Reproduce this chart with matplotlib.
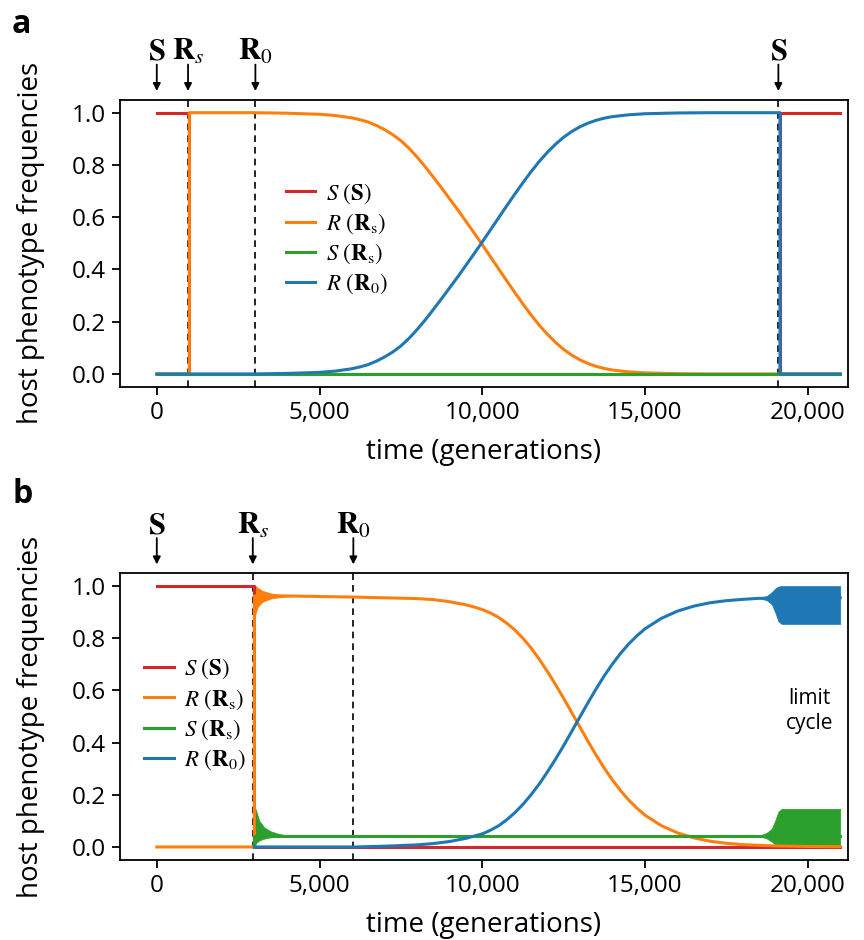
import numpy as np
import matplotlib
matplotlib.use("Agg")
from matplotlib import pyplot as plt
from matplotlib.ticker import FuncFormatter

plt.rcParams['font.family'] = ['Open Sans', 'DejaVu Sans']
plt.rcParams['mathtext.fontset'] = 'stix'

RED = '#d62728'
ORANGE = '#ff7f0e'
GREEN = '#2ca02c'
BLUE = '#1f77b4'
LW = 2.2

labels = [r'$S\ (\mathbf{S})$', r'$R\ (\mathbf{R}_\mathrm{s})$',
          r'$S\ (\mathbf{R}_\mathrm{s})$', r'$R\ (\mathbf{R}_0)$']

# ---------------- panel a ----------------
a_events = [0, 960, 3030, 19100]
a_event_labels = [r'$\mathbf{S}$', r'$\mathbf{R}_s$', r'$\mathbf{R}_0$', r'$\mathbf{S}$']
a_dashed = [960, 3030, 19100]

a_red_t = [0, 1000, 1000, 19150, 19150, 21000]
a_red = [1.0, 1.0, 0.0, 0.0, 1.0, 1.0]

a_green_t = [0, 21000]
a_green = [0.0, 0.0]

a_blue_t = [0, 3000, 3500, 4000, 4500, 5000, 5500, 6000, 6250, 6500, 6750,
            7000, 7250, 7500, 7750, 8000, 8250, 8500, 8750, 9000, 9250, 9500,
            9750, 10000, 10250, 10500, 10750, 11000, 11250, 11500, 11750, 12000,
            12250, 12500, 12750, 13000, 13250, 13500, 13750, 14000, 14500, 15000,
            16000, 17000, 19150, 19150, 21000]
a_blue = [0.0, 0.0, 0.001, 0.002, 0.004, 0.006, 0.011, 0.02, 0.027, 0.036, 0.049,
          0.065, 0.084, 0.107, 0.136, 0.17, 0.207, 0.247, 0.288, 0.33, 0.372, 0.416,
          0.46, 0.505, 0.551, 0.597, 0.643, 0.688, 0.732, 0.774, 0.813, 0.848,
          0.879, 0.906, 0.928, 0.946, 0.96, 0.971, 0.979, 0.985, 0.992, 0.996,
          0.999, 1.0, 1.0, 0.0, 0.0]

a_orange_t = [0, 1000, 1000, 3000, 3500, 4000, 4500, 5000, 5500, 6000, 6250, 6500,
              6750, 7000, 7250, 7500, 7750, 8000, 8250, 8500, 8750, 9000, 9250,
              9500, 9750, 10000, 10250, 10500, 10750, 11000, 11250, 11500, 11750,
              12000, 12250, 12500, 12750, 13000, 13250, 13500, 13750, 14000, 14500,
              15000, 16000, 17000, 19150, 21000]
a_orange = [0.0, 0.0, 1.0, 1.0, 0.999, 0.998, 0.996, 0.994, 0.989, 0.98, 0.973, 0.964,
            0.951, 0.935, 0.916, 0.893, 0.864, 0.83, 0.793, 0.753, 0.712, 0.67, 0.628,
            0.584, 0.54, 0.495, 0.449, 0.403, 0.357, 0.312, 0.268, 0.226, 0.187,
            0.152, 0.121, 0.094, 0.072, 0.054, 0.04, 0.029, 0.021, 0.015, 0.008,
            0.004, 0.001, 0.0, 0.0, 0.0]

# ---------------- panel b ----------------
b_events = [0, 2950, 6040]
b_event_labels = [r'$\mathbf{S}$', r'$\mathbf{R}_s$', r'$\mathbf{R}_0$']
b_dashed = [2950, 6040]

b_red_t = [0, 3000, 3000, 21000]
b_red = [1.0, 1.0, 0.0, 0.0]

b_orange_t = [0, 3000, 3000, 3500, 4000, 4500, 5000, 6000, 7000, 8000, 8500,
              9000, 9500, 9750, 10000, 10250, 10500, 10750, 11000, 11250, 11500,
              11750, 12000, 12250, 12500, 12750, 13000, 13250, 13500, 13750, 14000,
              14250, 14500, 14750, 15000, 15500, 16000, 16500, 17000, 17500, 18000,
              19000, 20000, 21000]
b_orange = [0.0, 0.0, 0.962, 0.963, 0.962, 0.961, 0.96, 0.958, 0.955, 0.952, 0.948,
            0.94, 0.928, 0.92, 0.91, 0.897, 0.88, 0.858, 0.832, 0.8, 0.763,
            0.72, 0.673, 0.623, 0.57, 0.515, 0.46, 0.405, 0.352, 0.302, 0.257,
            0.216, 0.18, 0.149, 0.122, 0.082, 0.054, 0.035, 0.022, 0.014, 0.009,
            0.004, 0.002, 0.001]

b_green_t = [3000, 3000, 21000]
b_green = [0.0, 0.042, 0.042]

b_blue_t = [3000, 6100, 7000, 8000, 8500, 9000, 9500, 10000, 10250, 10500, 10750,
            11000, 11250, 11500, 11750, 12000, 12250, 12500, 12750, 13000, 13250,
            13500, 13750, 14000, 14250, 14500, 14750, 15000, 15500, 16000, 16500,
            17000, 17500, 18000, 18500, 21000]
b_blue = [0.0, 0.0, 0.003, 0.008, 0.013, 0.021, 0.033, 0.05, 0.064, 0.081, 0.104,
          0.131, 0.163, 0.2, 0.241, 0.287, 0.336, 0.388, 0.443, 0.498, 0.553,
          0.606, 0.656, 0.701, 0.742, 0.778, 0.809, 0.836, 0.876, 0.904, 0.923,
          0.936, 0.944, 0.949, 0.953, 0.955]

# damped oscillation envelopes after R_s arrives
b_orange_osc_t = [3000, 3100, 3250, 3500, 3750, 4000, 4300]
b_orange_osc_hi = [1.005, 0.993, 0.982, 0.972, 0.966, 0.964, 0.962]
b_orange_osc_lo = [0.88, 0.92, 0.94, 0.952, 0.957, 0.96, 0.962]

b_green_osc_t = [3000, 3050, 3150, 3300, 3500, 3750, 4000, 4300]
b_green_osc_hi = [0.155, 0.14, 0.1, 0.075, 0.06, 0.05, 0.045, 0.042]
b_green_osc_lo = [0.0, 0.015, 0.025, 0.032, 0.037, 0.04, 0.041, 0.042]

# limit cycle envelopes
lc_t = [18500, 18750, 18900, 19000, 19100, 19200, 21000]
lc_blue_hi = [0.955, 0.962, 0.977, 0.99, 0.998, 1.0, 1.0]
lc_blue_lo = [0.955, 0.945, 0.93, 0.9, 0.865, 0.855, 0.855]
lc_green_hi = [0.042, 0.055, 0.07, 0.1, 0.135, 0.146, 0.146]
lc_green_lo = [0.042, 0.032, 0.02, 0.01, 0.004, 0.003, 0.003]


def style_axes(ax, events, event_labels, dashed):
    ax.set_xlim(-1130, 21240)
    ax.set_ylim(-0.05, 1.05)
    ax.set_xticks([0, 5000, 10000, 15000, 20000])
    ax.set_yticks([0.0, 0.2, 0.4, 0.6, 0.8, 1.0])
    ax.xaxis.set_major_formatter(FuncFormatter(lambda v, p: f'{int(v):,}'))
    ax.yaxis.set_major_formatter(FuncFormatter(lambda v, p: f'{v:.1f}'))
    ax.tick_params(direction='out', length=6, width=1.3, labelsize=17.5, pad=4)
    for s in ax.spines.values():
        s.set_linewidth(1.3)
    ax.set_xlabel('time (generations)', fontsize=20)
    ax.set_ylabel('host phenotype frequencies', fontsize=20)
    ax.yaxis.set_label_coords(-0.103, 0.5)
    ax.xaxis.set_label_coords(0.5, -0.178)
    for x in dashed:
        ax.axvline(x, color='black', ls=(0, (4, 3)), lw=1.2, zorder=1)
    for x, lab in zip(events, event_labels):
        ax.annotate('', xy=(x, 1.03), xycoords=('data', 'axes fraction'),
                    xytext=(x, 1.122), textcoords=('data', 'axes fraction'),
                    arrowprops=dict(arrowstyle='-|>', color='black', lw=1.3,
                                    mutation_scale=11, shrinkA=0, shrinkB=0))
        ax.text(x, 1.138, lab, transform=ax.get_xaxis_transform(),
                ha='center', va='baseline', fontsize=22)


def add_legend(ax, center):
    ax.legend(loc='center', bbox_to_anchor=center, frameon=False,
              fontsize=16.5, handlelength=1.3, handletextpad=0.45,
              labelspacing=0.25)


fig = plt.figure(figsize=(8.64, 9.4), dpi=100)

ax1 = fig.add_axes([0.1389, 0.5883, 0.8426, 0.3057])
ax1.plot(a_red_t, a_red, color=RED, lw=LW, label=labels[0])
ax1.plot(a_orange_t, a_orange, color=ORANGE, lw=LW, label=labels[1])
ax1.plot(a_green_t, a_green, color=GREEN, lw=LW, label=labels[2])
ax1.plot(a_blue_t, a_blue, color=BLUE, lw=LW, label=labels[3])
style_axes(ax1, a_events, a_event_labels, a_dashed)
add_legend(ax1, (0.2975, 0.516))

ax2 = fig.add_axes([0.1389, 0.0851, 0.8426, 0.3053])
ax2.plot(b_red_t, b_red, color=RED, lw=LW, label=labels[0])
ax2.plot(b_orange_t, b_orange, color=ORANGE, lw=LW, label=labels[1])
ax2.fill_between(b_orange_osc_t, b_orange_osc_lo, b_orange_osc_hi, color=ORANGE, lw=0.5)
ax2.plot(b_green_t, b_green, color=GREEN, lw=LW, label=labels[2])
ax2.fill_between(b_green_osc_t, b_green_osc_lo, b_green_osc_hi, color=GREEN, lw=0.5)
ax2.fill_between(lc_t, lc_green_lo, lc_green_hi, color=GREEN, lw=0.5)
ax2.plot(b_blue_t, b_blue, color=BLUE, lw=LW, label=labels[3])
ax2.fill_between(lc_t, lc_blue_lo, lc_blue_hi, color=BLUE, lw=0.5)
style_axes(ax2, b_events, b_event_labels, b_dashed)
add_legend(ax2, (0.103, 0.507))
ax2.text(20060, 0.52, 'limit\ncycle', ha='center', va='center', fontsize=15,
         linespacing=1.25)

fig.text(0.014, 0.965, 'a', fontsize=23, fontweight='bold', va='baseline')
fig.text(0.014, 0.465, 'b', fontsize=23, fontweight='bold', va='baseline')

fig.savefig('out.png', dpi=100)
